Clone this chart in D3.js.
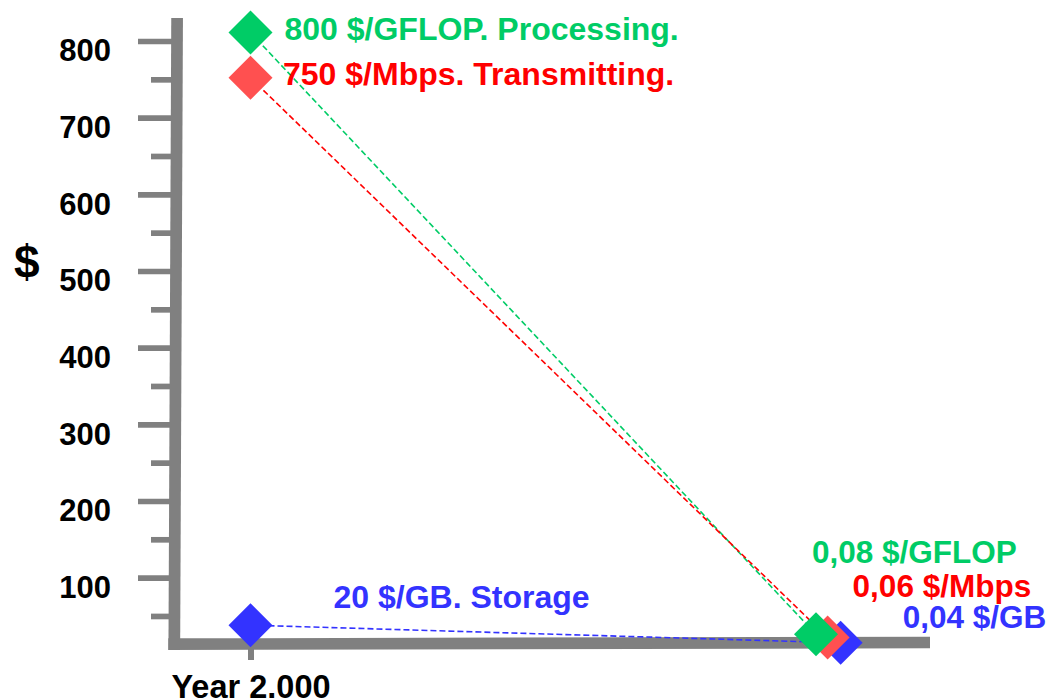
<!DOCTYPE html>
<html>
<head>
<meta charset="utf-8">
<script src="https://cdn.jsdelivr.net/npm/d3@7/dist/d3.min.js"></script>
<style>
  html, body { margin: 0; padding: 0; background: #ffffff; }
  svg { display: block; }
  text { font-family: "Liberation Sans", Arial, sans-serif; font-weight: bold; }
</style>
</head>
<body>
<svg id="chart" width="1048" height="699"></svg>
<script>
// ---- Data ----
const seriesNames = ["Processing", "Transmitting", "Storage"];
const startYear  = [2000, 2000, 2000];
const startPrice = [811, 752, 38];
const endYear    = [2019.5, 2019.9, 2020.35];
const endPrice   = [26, 22, 15];
const startLabels = ["800 $/GFLOP. Processing.", "750 $/Mbps. Transmitting.", "20 $/GB. Storage"];
const endLabels   = ["0,08 $/GFLOP", "0,06 $/Mbps", "0,04 $/GB"];
const yMajorTicks = [100, 200, 300, 400, 500, 600, 700, 800];
const yMinorTicks = [50, 150, 250, 350, 450, 550, 650, 750];
const xTicks      = [2000];
const xTickLabels = ["Year 2.000"];
const yAxisTitle  = "$";

// ---- Styles ----
const markerColor = { Processing: "#00CC66", Transmitting: "#FF5050", Storage: "#3333FF" };
const lineColor   = { Processing: "#00CC66", Transmitting: "#FF0000", Storage: "#3333FF" };
const textColor   = { Processing: "#00CC66", Transmitting: "#FF0000", Storage: "#3333FF" };
const gray = "#808080";

// annotation offsets (px) relative to marker centres
const startLabelOffset = [[34, 7.5], [32.5, 7.5], [83, -17]];
const endLabelOffset   = [[-4, -71], [25, -40], [62, -15]];

const svg = d3.select("#chart");

const y = d3.scaleLinear().domain([0, 800]).range([654.3, 41]);
const x = d3.scaleLinear().domain([2000, 2020]).range([250.5, 830.5]);

// ---- Y axis ticks (major + minor) ----
const yAxisG = svg.append("g").attr("transform", "translate(176,0)")
  .call(d3.axisLeft(y).tickValues(yMajorTicks).tickSize(38).tickPadding(27).tickFormat(d3.format("d")));
yAxisG.select(".domain").remove();
yAxisG.selectAll(".tick line").attr("stroke", gray).attr("stroke-width", 5.7);
yAxisG.selectAll(".tick text")
  .attr("fill", "#000").attr("dy", "0.64em")
  .style("font-size", "31px").style("font-weight", "bold")
  .style("font-family", "'Liberation Sans', Arial, sans-serif");

const yMinorG = svg.append("g").attr("transform", "translate(176,0)")
  .call(d3.axisLeft(y).tickValues(yMinorTicks).tickSize(25).tickFormat(""));
yMinorG.select(".domain").remove();
yMinorG.selectAll(".tick line").attr("stroke", gray).attr("stroke-width", 5.7);

// ---- X axis tick ----
const xAxisG = svg.append("g").attr("transform", "translate(0,644)")
  .call(d3.axisBottom(x).tickValues(xTicks).tickSize(16).tickFormat((d, i) => xTickLabels[i]));
xAxisG.select(".domain").remove();
xAxisG.selectAll(".tick line").attr("stroke", gray).attr("stroke-width", 6);
xAxisG.selectAll(".tick text")
  .attr("fill", "#000").attr("y", 54).attr("dy", "0")
  .style("font-size", "32.5px").style("font-weight", "bold")
  .style("font-family", "'Liberation Sans', Arial, sans-serif");

// ---- Axis bars ----
svg.append("line").attr("x1", 177.1).attr("y1", 18).attr("x2", 174.3).attr("y2", 650)
  .attr("stroke", gray).attr("stroke-width", 11.7);
svg.append("line").attr("x1", 168.3).attr("y1", 644.2).attr("x2", 930).attr("y2", 642.5)
  .attr("stroke", gray).attr("stroke-width", 11.7);

// ---- Y axis title ----
svg.append("text").attr("x", 14).attr("y", 278)
  .attr("fill", "#000").style("font-size", "46px").text(yAxisTitle);

// ---- Dashed connector lines ----
const idx = d3.range(seriesNames.length);
svg.append("g").selectAll("line").data(idx).join("line")
  .attr("x1", i => x(startYear[i])).attr("y1", i => y(startPrice[i]))
  .attr("x2", i => x(endYear[i])).attr("y2", i => y(endPrice[i]))
  .attr("stroke", i => lineColor[seriesNames[i]])
  .attr("stroke-width", 1.6)
  .attr("stroke-dasharray", "6,3");

// ---- Markers ----
const diamond = (cx, cy, r) => `M${cx},${cy - r}L${cx + r},${cy}L${cx},${cy + r}L${cx - r},${cy}Z`;
const R = 22;
svg.append("g").selectAll("path").data(idx).join("path")
  .attr("d", i => diamond(x(startYear[i]), y(startPrice[i]), R))
  .attr("fill", i => markerColor[seriesNames[i]]);
// end markers: draw storage first, processing on top
svg.append("g").selectAll("path").data(idx.slice().reverse()).join("path")
  .attr("d", i => diamond(x(endYear[i]), y(endPrice[i]), R))
  .attr("fill", i => markerColor[seriesNames[i]]);

// ---- Labels ----
svg.append("g").selectAll("text").data(idx).join("text")
  .attr("x", i => x(startYear[i]) + startLabelOffset[i][0])
  .attr("y", i => y(startPrice[i]) + startLabelOffset[i][1])
  .attr("fill", i => textColor[seriesNames[i]])
  .style("font-size", "32px")
  .text(i => startLabels[i]);

svg.append("g").selectAll("text").data(idx).join("text")
  .attr("x", i => x(endYear[i]) + endLabelOffset[i][0])
  .attr("y", i => y(endPrice[i]) + endLabelOffset[i][1])
  .attr("fill", i => textColor[seriesNames[i]])
  .style("font-size", "31.5px")
  .text(i => endLabels[i]);
</script>
</body>
</html>
